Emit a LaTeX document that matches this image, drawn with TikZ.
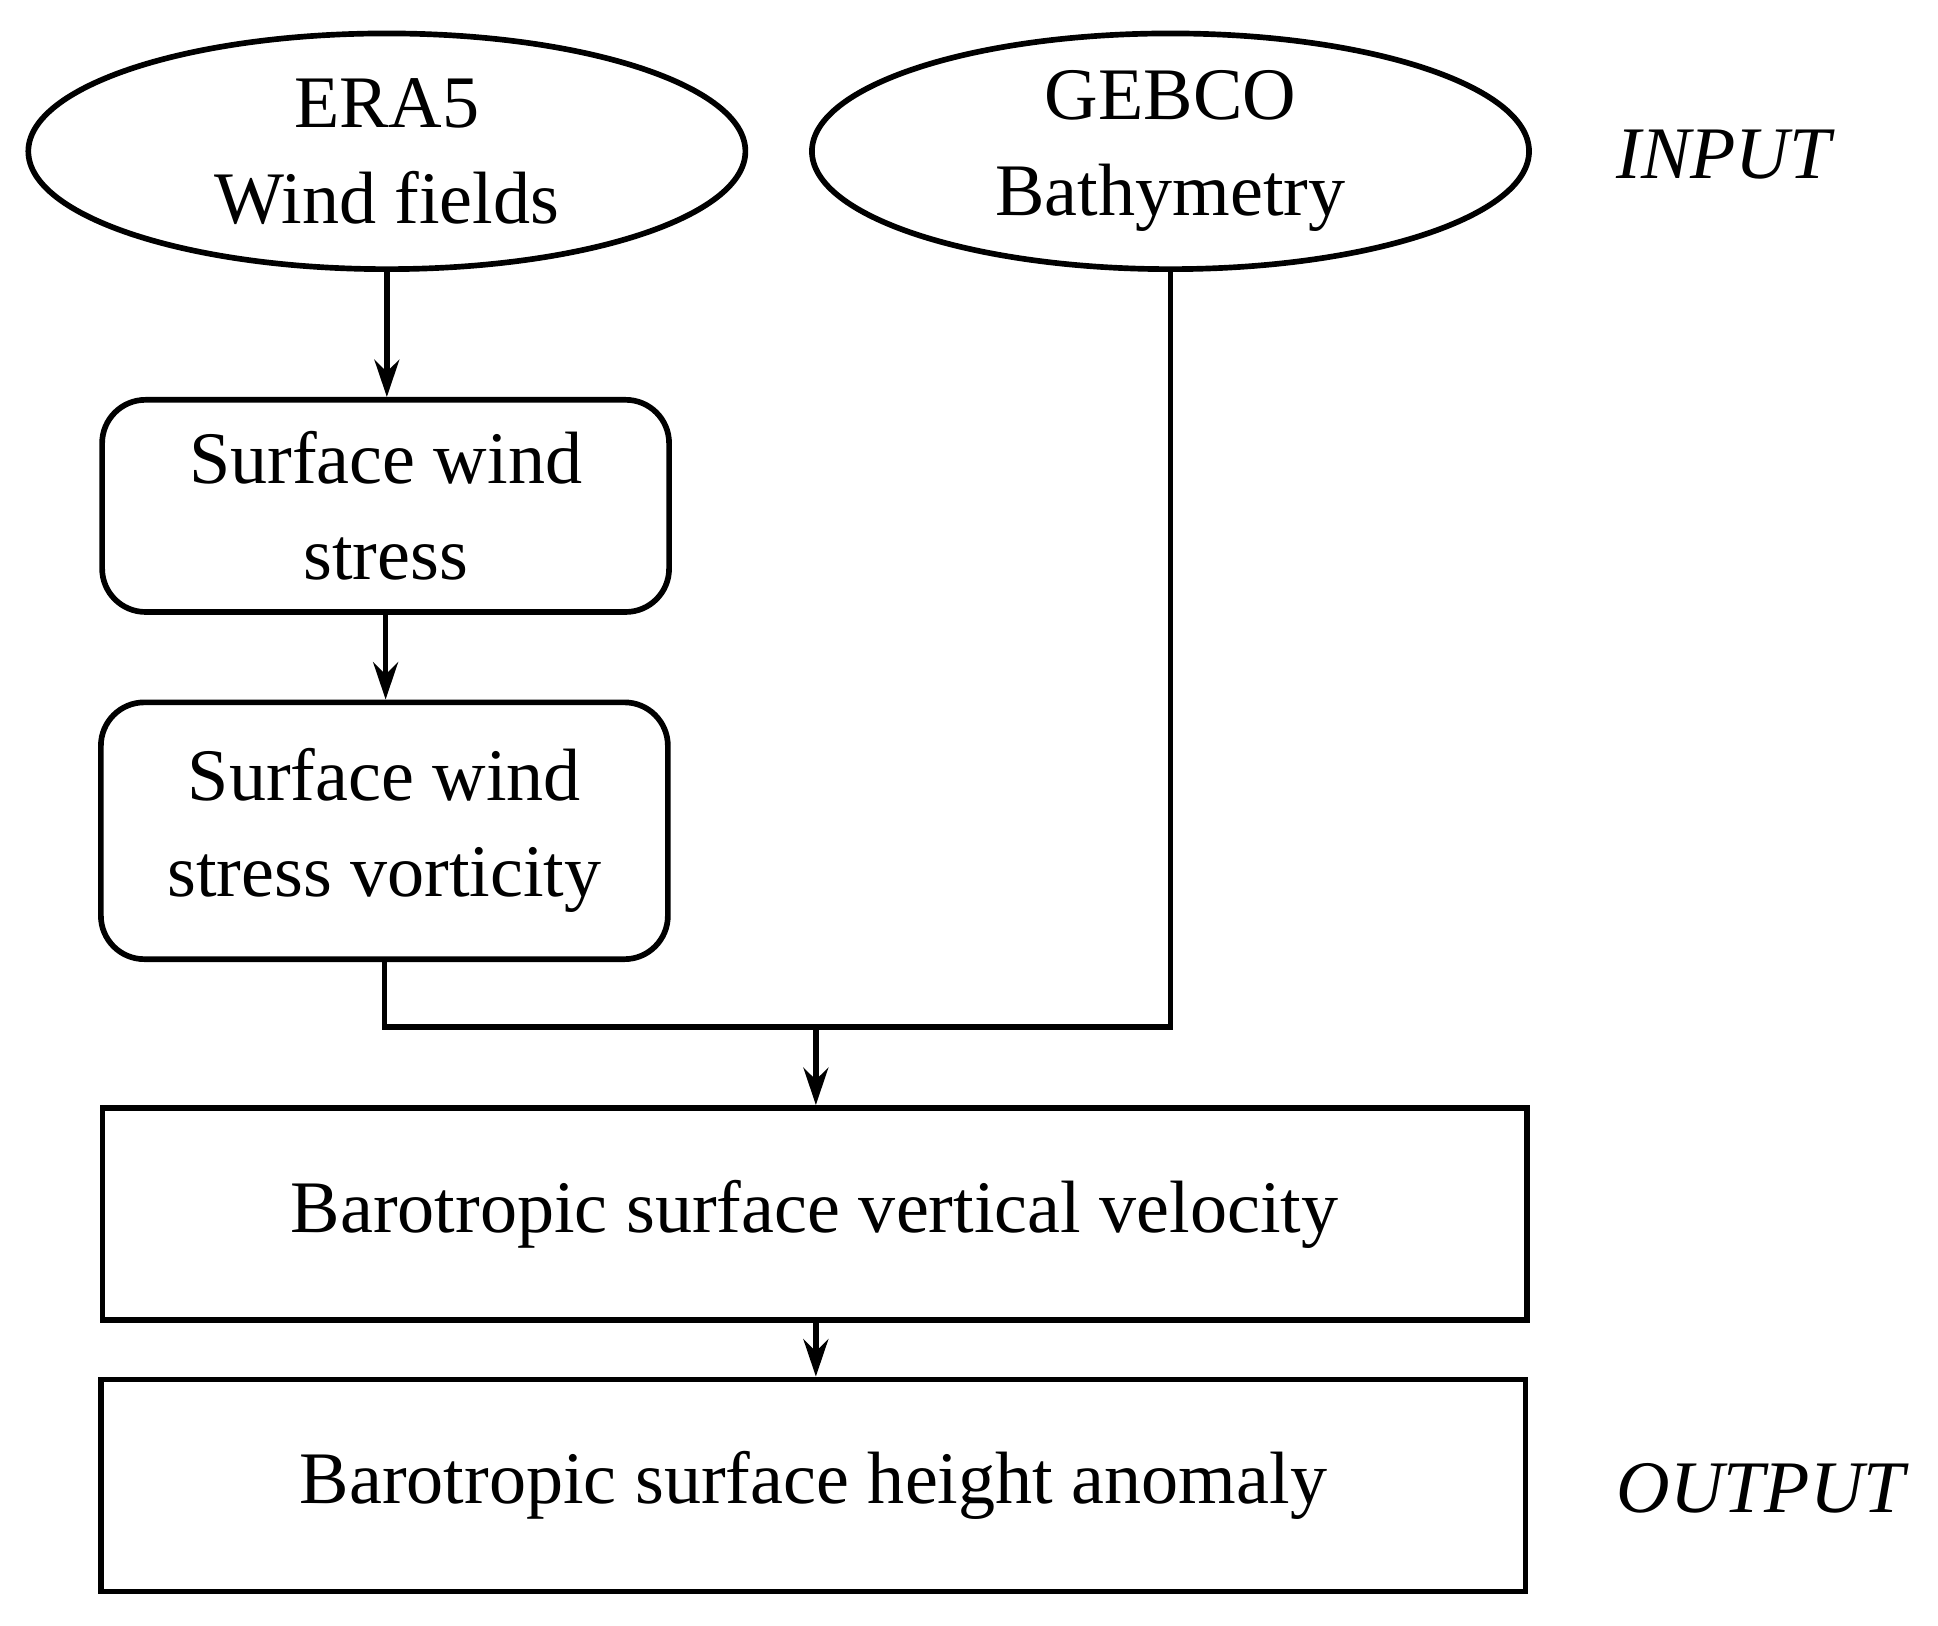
\documentclass[tikz,border=0pt]{standalone}
\usepackage{fontspec}
\setmainfont{Liberation Serif}
\usetikzlibrary{shapes.geometric,arrows.meta}
\begin{document}
\begin{tikzpicture}[x=0.01cm,y=-0.01cm,line width=1.3pt,
  txt/.style={font=\fontsize{17}{22}\selectfont,align=center},
  ell/.style={draw,ellipse,txt,minimum width=5.78cm,minimum height=1.9cm,inner sep=0pt},
  rbox/.style={draw,rounded corners=0.35cm,txt,minimum width=4.57cm,inner sep=0pt},
  box/.style={draw,txt,minimum width=11.48cm,minimum height=1.71cm,inner sep=0pt},
  arr/.style={-{Stealth[length=0.3cm,width=0.2cm]}}]
\useasboundingbox (0,0) rectangle (1563,1311);
\node[ell] (era) at (312,122) {ERA5\\Wind fields};
\node[ell] (geb) at (944,122) {GEBCO\\Bathymetry};
\node[txt,font=\fontsize{17}{22}\selectfont\itshape] (in) at (1390,125) {INPUT};
\node[rbox,minimum height=1.71cm] (b1) at (311,408) {Surface wind\\stress};
\node[rbox,minimum height=2.07cm] (b2) at (310,670) {Surface wind\\stress vorticity};
\node[box] (b3) at (657,979) {Barotropic surface vertical velocity};
\node[box] (b4) at (656,1198) {Barotropic surface height anomaly};
\node[txt,font=\fontsize{17}{22}\selectfont\itshape] (out) at (1420,1200) {OUTPUT};
\coordinate (j) at (658,828);
\draw[arr] (era.south) -- (era.south |- b1.north);
\draw[arr] (b1.south) -- (b1.south |- b2.north);
\draw (b2.south) |- (j) -| (geb.south);
\draw[arr] (j) -- (j |- b3.north);
\draw[arr] (j |- b3.south) -- (j |- b4.north);
\end{tikzpicture}
\end{document}
